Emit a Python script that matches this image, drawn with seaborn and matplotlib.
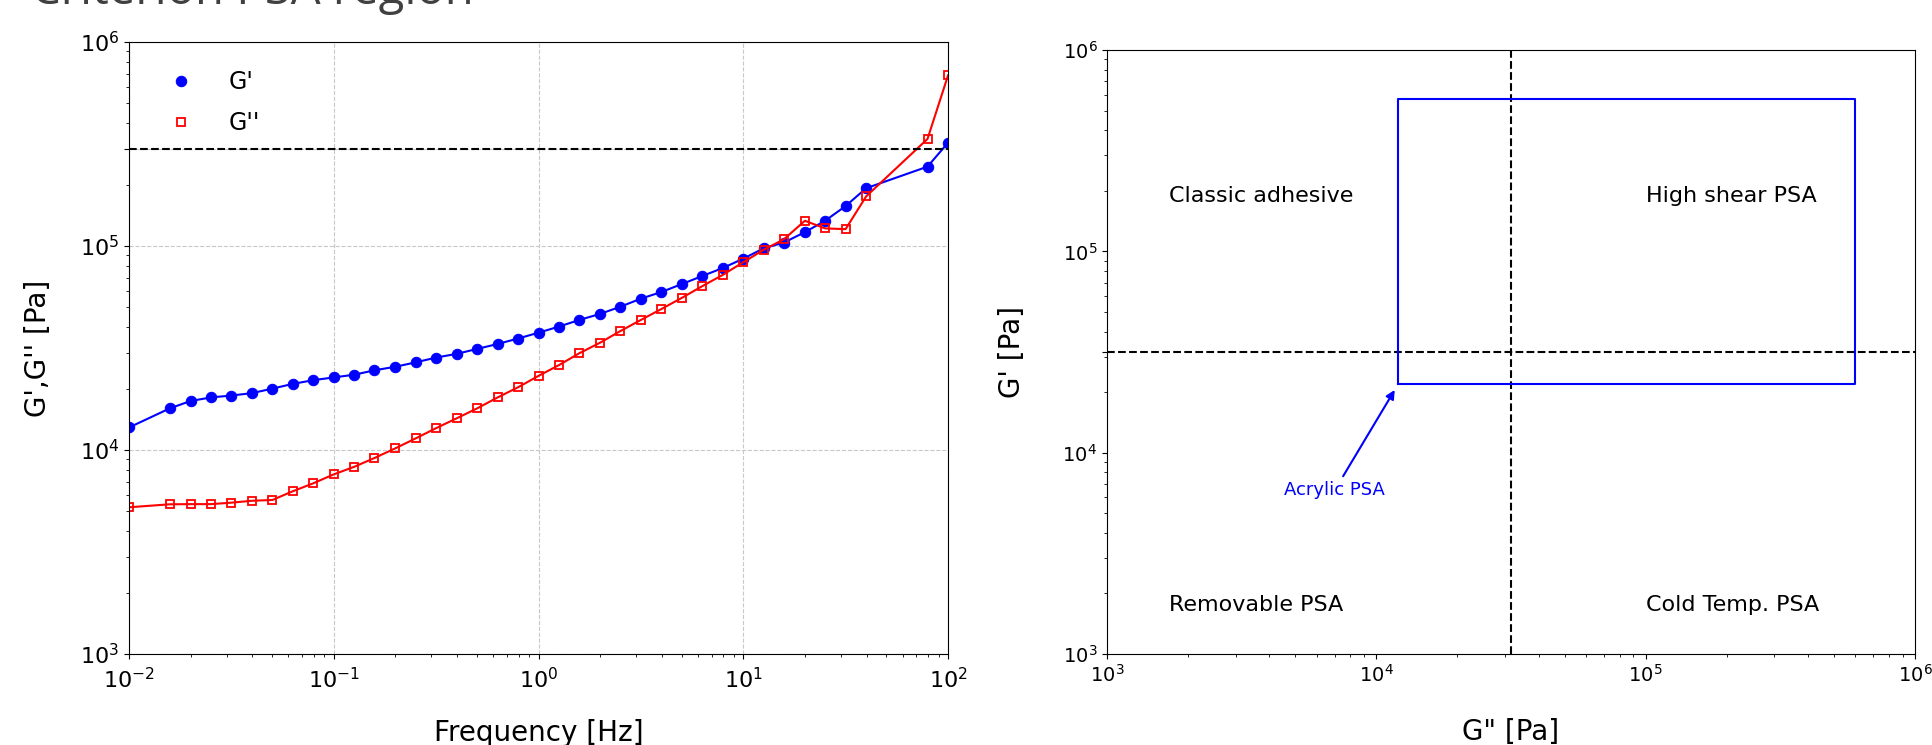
import math

import matplotlib
matplotlib.use('Agg')
import matplotlib.pyplot as plt
import matplotlib.ticker as mticker
import seaborn as sns

# frequency sweep (Hz)
freq = [0.01, 0.0158, 0.02, 0.0251, 0.0316, 0.0398, 0.0501, 0.0631, 0.0794,
        0.1, 0.126, 0.158, 0.2, 0.251, 0.316, 0.398, 0.501, 0.631, 0.794,
        1.0, 1.26, 1.58, 2.0, 2.51, 3.16, 3.98, 5.01, 6.31, 7.94,
        10.0, 12.6, 15.8, 20.0, 25.1, 31.6, 39.8, 79.4, 100.0]

# storage modulus G' (Pa)
g_storage = [12.9e3, 16.0e3, 17.4e3, 18.1e3, 18.5e3, 19.0e3, 20.0e3, 21.1e3, 22.0e3,
             22.7e3, 23.4e3, 24.6e3, 25.6e3, 26.9e3, 28.4e3, 29.6e3, 31.3e3, 33.1e3, 35.2e3,
             37.6e3, 40.3e3, 43.4e3, 46.5e3, 50.4e3, 55.2e3, 59.5e3, 65.1e3, 71.3e3, 78.0e3,
             86.7e3, 97.5e3, 104e3, 117e3, 133e3, 157e3, 192e3, 245e3, 321e3]

# loss modulus G'' (Pa)
g_loss = [5.24e3, 5.42e3, 5.43e3, 5.43e3, 5.52e3, 5.64e3, 5.69e3, 6.28e3, 6.87e3,
          7.60e3, 8.28e3, 9.14e3, 10.2e3, 11.4e3, 12.8e3, 14.3e3, 16.0e3, 18.1e3, 20.3e3,
          23.1e3, 26.1e3, 29.8e3, 33.6e3, 38.3e3, 43.4e3, 49.1e3, 55.7e3, 63.6e3, 72.2e3,
          83.3e3, 95.9e3, 108e3, 133e3, 122e3, 121e3, 175e3, 335e3, 686e3]

dahlquist = 3e5          # Dahlquist criterion line
split_gp = 3.16e4        # G' split in the PSA window
split_gpp = 3.16e4       # G'' split in the PSA window

# acrylic PSA window: (G'' min, G'' max), (G' min, G' max)
acrylic_gpp = [1.2e4, 6.0e5]
acrylic_gp = [2.2e4, 5.7e5]

quadrant_labels = ["Classic adhesive", "High shear PSA", "Removable PSA", "Cold Temp. PSA"]
quadrant_gpp = [1.7e3, 1.0e5, 1.7e3, 1.0e5]
quadrant_gp = [1.89e5, 1.89e5, 1.75e3, 1.75e3]


def log_labels(v, pos):
    # extra ticks at the criterion lines get no label
    if v in (dahlquist, split_gp):
        return ''
    return r'$\mathdefault{10^{%d}}$' % round(math.log10(v))


fig = plt.figure(figsize=(19.32, 7.45), dpi=100)
ax1 = fig.add_axes([0.0668, 0.1221, 0.4239, 0.8215])
ax2 = fig.add_axes([0.573, 0.1221, 0.4182, 0.8107])

# ---- left: frequency sweep
ax1.set_xscale('log')
ax1.set_yscale('log')
sns.lineplot(x=freq, y=g_storage, ax=ax1, color='blue', marker='o', markersize=7.5,
             markeredgecolor='blue', linewidth=1.5, label="G'")
sns.lineplot(x=freq, y=g_loss, ax=ax1, color='red', marker='s', markersize=6,
             markerfacecolor='none', markeredgecolor='red', markeredgewidth=1.3,
             linewidth=1.5, label="G''")
ax1.axhline(dahlquist, color='black', ls='--', lw=1.5)
ax1.set_xlim(1e-2, 1e2)
ax1.set_ylim(1e3, 1e6)
ax1.yaxis.set_major_locator(mticker.FixedLocator([1e3, 1e4, 1e5, dahlquist, 1e6]))
ax1.yaxis.set_major_formatter(mticker.FuncFormatter(log_labels))
ax1.grid(True, which='major', ls='--', color='#c8c8c8', lw=0.8)
ax1.set_xlabel('Frequency [Hz]', fontsize=20, labelpad=19)
ax1.set_ylabel("G',G'' [Pa]", fontsize=20, labelpad=20)
ax1.tick_params(labelsize=16)
ax1.tick_params(axis='x', pad=6)
leg = ax1.legend(loc='upper left', frameon=False, fontsize=17, handlelength=2.0,
                 handletextpad=1.0, borderaxespad=0.8, labelspacing=0.7)
for h in leg.legend_handles:
    h.set_linestyle('none')

# ---- right: viscoelastic window
ax2.set_xscale('log')
ax2.set_yscale('log')
ax2.set_xlim(1e3, 1e6)
ax2.set_ylim(1e3, 1e6)
ax2.axvline(split_gpp, color='black', ls='--', lw=1.5)
ax2.axhline(split_gp, color='black', ls='--', lw=1.5)
box_x = [acrylic_gpp[0], acrylic_gpp[1], acrylic_gpp[1], acrylic_gpp[0], acrylic_gpp[0]]
box_y = [acrylic_gp[0], acrylic_gp[0], acrylic_gp[1], acrylic_gp[1], acrylic_gp[0]]
ax2.plot(box_x, box_y, color='blue', lw=1.5)
for lab, gx, gy in zip(quadrant_labels, quadrant_gpp, quadrant_gp):
    ax2.text(gx, gy, lab, fontsize=16, va='center', ha='left')
ax2.annotate('Acrylic PSA', xy=(1.17e4, 2.05e4), xytext=(7.0e3, 6.5e3),
             color='blue', fontsize=13, ha='center', va='center',
             arrowprops=dict(arrowstyle='-|>', color='blue', lw=1.5, shrinkB=0))
ax2.yaxis.set_major_locator(mticker.FixedLocator([1e3, 1e4, split_gp, 1e5, 1e6]))
ax2.yaxis.set_major_formatter(mticker.FuncFormatter(log_labels))
ax2.set_xlabel('G" [Pa]', fontsize=20, labelpad=23)
ax2.set_ylabel("G' [Pa]", fontsize=20, labelpad=26)
ax2.tick_params(labelsize=14)

# slide title, cut off at the top edge as in the screenshot
fig.text(0.016, 0.9945, 'Criterion PSA region', fontsize=34,
         family='Open Sans', color='#404040', ha='left', va='baseline')

fig.savefig('out.png', dpi=100)
